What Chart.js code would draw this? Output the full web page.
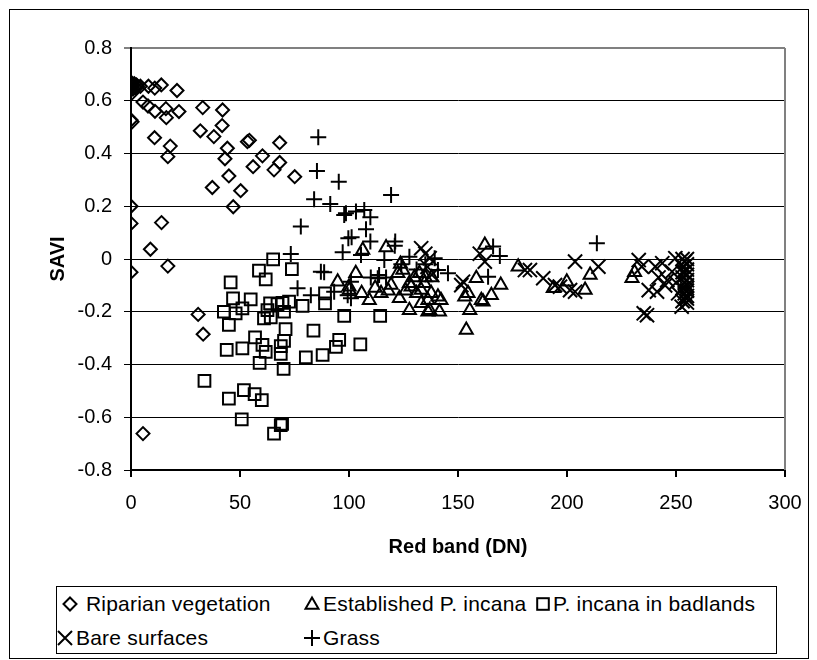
<!DOCTYPE html>
<html>
<head>
<meta charset="utf-8">
<script src="https://cdn.jsdelivr.net/npm/chart.js@4/dist/chart.umd.min.js"></script>
<style>
  body { margin: 0; background: #fff; font-family: "Liberation Sans", Arial, sans-serif; }
  #frame { position: absolute; left: 9px; top: 9px; width: 798px; height: 648px; border: 1px solid #000; }
  #wrap { position: absolute; left: 0; top: 0; width: 817px; height: 580px; }
  #legend { position: absolute; left: 56px; top: 586px; width: 721px; height: 68px; border: 1px solid #000; box-sizing: border-box; font-size: 21px; line-height: 24px; letter-spacing: 0.2px; color: #000; }
  #legend svg { position: absolute; overflow: visible; }
  #legend span { position: absolute; white-space: nowrap; }
</style>
</head>
<body>
<div id="frame"></div>
<div id="wrap"><canvas id="chart" width="817" height="580"></canvas></div>
<div id="legend">
  <svg width="1" height="1" style="left:13px;top:17px"><polygon points="0,-6.5 6.5,0 0,6.5 -6.5,0" fill="none" stroke="#000" stroke-width="2"/></svg>
  <span style="left:29px;top:5px">Riparian vegetation</span>
  <svg width="1" height="1" style="left:255px;top:18px"><polygon points="0,-7.5 6.5,3.75 -6.5,3.75" fill="none" stroke="#000" stroke-width="2"/></svg>
  <span style="left:266px;top:5px">Established P. incana</span>
  <svg width="1" height="1" style="left:486px;top:17px"><rect x="-5.8" y="-5.8" width="11.6" height="11.6" fill="none" stroke="#000" stroke-width="2"/></svg>
  <span style="left:496px;top:5px">P. incana in badlands</span>
  <svg width="1" height="1" style="left:8px;top:51px"><path d="M-7,-7L7,7M7,-7L-7,7" stroke="#000" stroke-width="2"/></svg>
  <span style="left:19px;top:39px">Bare surfaces</span>
  <svg width="1" height="1" style="left:255px;top:51px"><path d="M-8,0L8,0M0,-8L0,8" stroke="#000" stroke-width="2"/></svg>
  <span style="left:266px;top:39px">Grass</span>
</div>
<script>
// values: [red band DN, SAVI]
const riparian = [
  [0, 0.66], [0, 0.65], [0, 0.67], [0, 0.64], [0.5, 0.655], [1, 0.66], [1, 0.645], [1.5, 0.665],
  [2, 0.65], [2.5, 0.66], [3, 0.655], [4.3, 0.655], [0.5, 0.63], [8, 0.655], [10.9, 0.648],
  [13.9, 0.66], [21.1, 0.639], [5.5, 0.595], [7.8, 0.58], [11, 0.56], [16, 0.57], [16.2, 0.536],
  [22, 0.559], [0, 0.527], [0.5, 0.52], [32.9, 0.574], [42, 0.565], [10.8, 0.46], [18, 0.428],
  [16.9, 0.388], [31.8, 0.486], [38, 0.464], [41.8, 0.506], [44.2, 0.42], [43.1, 0.38], [44.9, 0.315],
  [37.3, 0.271], [50.3, 0.259], [46.9, 0.198], [53.4, 0.445], [54.3, 0.45], [56, 0.35], [60.3, 0.391],
  [65.6, 0.338], [68.2, 0.366], [68.2, 0.441], [75.1, 0.312], [0, 0.2], [0, 0.135], [14, 0.138],
  [8.9, 0.037], [0, -0.05], [16.9, -0.027], [30.8, -0.21], [33.1, -0.285], [5.5, -0.662]
];
const established = [
  [94.8, -0.086], [100, -0.105], [100.1, -0.118], [103.1, -0.054], [105.8, -0.13], [106.3, 0.034],
  [109.3, -0.156], [112, -0.11], [114.7, -0.13], [117, 0.044], [118, -0.12], [119.3, -0.099],
  [122.4, -0.054], [123.6, -0.019], [123.1, -0.149], [124.7, -0.042], [126, -0.12], [127.7, -0.194],
  [127.7, -0.092], [128.5, -0.105], [130, -0.07], [131, -0.13], [132.3, -0.054], [133.1, -0.118],
  [133.1, -0.168], [134.6, -0.092], [135, -0.07], [136.2, -0.156], [136.2, -0.2], [137, -0.194],
  [137.7, -0.13], [138, -0.07], [140.8, -0.143], [141.5, -0.2], [142.2, -0.156], [153.1, -0.143],
  [153.8, -0.269], [154.6, -0.13], [155.4, -0.194], [158.4, -0.073], [160.7, -0.156], [161.5, -0.162],
  [162.3, 0.053], [165.3, -0.137], [169.6, -0.099], [177.6, -0.029], [193.7, -0.111], [199.9, -0.086],
  [208.3, -0.118], [210.6, -0.061], [229.8, -0.073], [231, -0.05]
];
const badlands = [
  [65.2, -0.001], [58.7, -0.044], [61.8, -0.077], [73.8, -0.038], [45.7, -0.089], [46.8, -0.149],
  [54.9, -0.153], [42.6, -0.2], [48, -0.206], [51.1, -0.187], [44.9, -0.25], [63.8, -0.168],
  [62.6, -0.194], [61, -0.225], [64.1, -0.221], [69.5, -0.166], [67.2, -0.171], [72.5, -0.162],
  [70.2, -0.2], [78.7, -0.178], [89, -0.168], [89, -0.13], [97.8, -0.216], [114.3, -0.216],
  [83.7, -0.272], [70.9, -0.266], [70.2, -0.31], [68.7, -0.33], [56.9, -0.297], [60.3, -0.326],
  [61.8, -0.352], [51.1, -0.339], [43.9, -0.345], [68.7, -0.36], [70, -0.417], [59, -0.394],
  [80.2, -0.373], [87.9, -0.364], [94, -0.333], [95.5, -0.307], [105.2, -0.324], [33.7, -0.462],
  [51.8, -0.497], [56.7, -0.512], [60, -0.535], [44.9, -0.529], [50.8, -0.608], [65.6, -0.662],
  [68.7, -0.63], [69.3, -0.625]
];
const bare = [
  [133.1, 0.041], [135, 0.02], [137, 0.003], [136, -0.03], [138, -0.06], [152.3, -0.086],
  [151.5, -0.099], [162.3, -0.01], [160, 0.02], [180.7, -0.042], [183, -0.042], [189.1, -0.073],
  [194.5, -0.099], [196.8, -0.105], [201.4, -0.118], [203.7, -0.124], [203.7, -0.01], [214.4, -0.029],
  [232.9, -0.004], [234.3, -0.029], [237.5, -0.118], [241.3, -0.124], [236.7, -0.213], [235.2, -0.206],
  [240.5, -0.029], [243.7, -0.016], [246, -0.08], [248.2, -0.048], [249.7, 0.003], [252.6, -0.181],
  [254.2, -0.143], [242, -0.07], [245, -0.1], [250, -0.09], [251, -0.13],
  [253, 0], [254, -0.01], [255, 0], [255, -0.02], [253, -0.03], [255, -0.04], [254, -0.05],
  [255, -0.06], [253, -0.07], [255, -0.08], [254, -0.09], [255, -0.1], [253, -0.11], [255, -0.12],
  [254, -0.13], [255, -0.14], [255, -0.15], [253, -0.16], [255, -0.165], [253, -0.05], [255, -0.11]
];
const grass = [
  [73.3, 0.019], [77.9, 0.123], [76.4, -0.111], [82.5, -0.137], [84, 0.227], [85.3, 0.334],
  [85.9, 0.462], [87.1, -0.048], [88.6, -0.05], [91.4, 0.209], [93.2, -0.124], [95.3, 0.293],
  [97.1, 0.026], [97.8, 0.167], [98.6, 0.173], [99.7, 0.079], [99.4, -0.137], [100.9, -0.086],
  [100.9, -0.149], [101.2, 0.082], [103.2, 0.18], [105.5, 0.015], [107, 0.186], [107.8, 0.113],
  [109.8, 0.158], [109.8, 0.066], [110, -0.07], [113.2, -0.073], [113.8, -0.061], [116.2, -0.004],
  [117, -0.07], [119.3, 0.243], [121.2, 0.066], [121, 0.05], [124, -0.02], [127.7, 0.009],
  [131, -0.04], [135, -0.02], [139.3, 0.003], [140.8, -0.042], [145.4, -0.054], [163.8, -0.067],
  [166.1, 0.047], [169.2, 0.011], [213.7, 0.06]
];
const xTicks = [0, 50, 100, 150, 200, 250, 300];
const yTicks = [-0.8, -0.6, -0.4, -0.2, 0, 0.2, 0.4, 0.6, 0.8];

Chart.defaults.font.family = '"Liberation Sans", Arial, sans-serif';
Chart.defaults.font.size = 20;
Chart.defaults.color = '#000';

function series(label, points, style, radius) {
    return {
        label: label,
        data: points.map(p => ({ x: p[0], y: p[1] })),
        pointStyle: style,
        pointRadius: radius,
        pointHoverRadius: radius,
        pointBorderColor: '#000',
        pointBackgroundColor: 'rgba(0,0,0,0)',
        pointBorderWidth: 2,
        showLine: false
    };
}

// grey plot-area edge on the right side
const plotEdge = {
    id: 'plotEdge',
    beforeDatasetsDraw(chart) {
        const { ctx, chartArea: a } = chart;
        ctx.save();
        ctx.strokeStyle = '#808080';
        ctx.lineWidth = 2;
        ctx.beginPath();
        ctx.moveTo(a.right, a.top);
        ctx.lineTo(a.right, a.bottom);
        ctx.stroke();
        ctx.restore();
    }
};

const isTop = v => Math.abs(v - 0.8) < 1e-9;

new Chart(document.getElementById('chart'), {
    type: 'scatter',
    data: {
        datasets: [
            series('Riparian vegetation', riparian, 'rectRot', 6.5),
            series('Established P. incana', established, 'triangle', 7.5),
            series('P. incana in badlands', badlands, 'rect', 8.3),
            series('Bare surfaces', bare, 'crossRot', 10),
            series('Grass', grass, 'cross', 8)
        ]
    },
    options: {
        responsive: false,
        animation: false,
        events: [],
        layout: { padding: { left: 0, top: 48, right: 32, bottom: 10 } },
        plugins: { legend: { display: false }, tooltip: { enabled: false } },
        scales: {
            x: {
                type: 'linear',
                min: 0,
                max: 300,
                afterBuildTicks: s => { s.ticks = xTicks.map(v => ({ value: v })); },
                afterFit: s => { s.height = 100; },
                grid: { drawOnChartArea: false, color: '#000', tickColor: '#000', tickLength: 7, lineWidth: 2 },
                border: { color: '#000', width: 2 },
                ticks: { padding: 14, maxRotation: 0 },
                title: { display: true, text: 'Red band (DN)', font: { weight: 'bold', size: 20 }, padding: { bottom: 11 } }
            },
            y: {
                min: -0.8,
                max: 0.8,
                afterBuildTicks: s => { s.ticks = yTicks.map(v => ({ value: v })); },
                afterFit: s => { s.width = 131; },
                grid: {
                    color: c => isTop(c.tick.value) ? '#808080' : '#000',
                    tickColor: c => isTop(c.tick.value) ? '#808080' : '#000',
                    lineWidth: c => isTop(c.tick.value) ? 2 : 1,
                    tickLength: 7
                },
                border: { color: '#000', width: 2 },
                ticks: {
                    padding: 12,
                    callback: v => (Math.abs(v) < 1e-9 ? '0' : v.toFixed(1))
                },
                title: { display: true, text: 'SAVI', font: { weight: 'bold', size: 20 }, padding: { top: 46 } }
            }
        }
    },
    plugins: [plotEdge]
});
</script>
</body>
</html>
